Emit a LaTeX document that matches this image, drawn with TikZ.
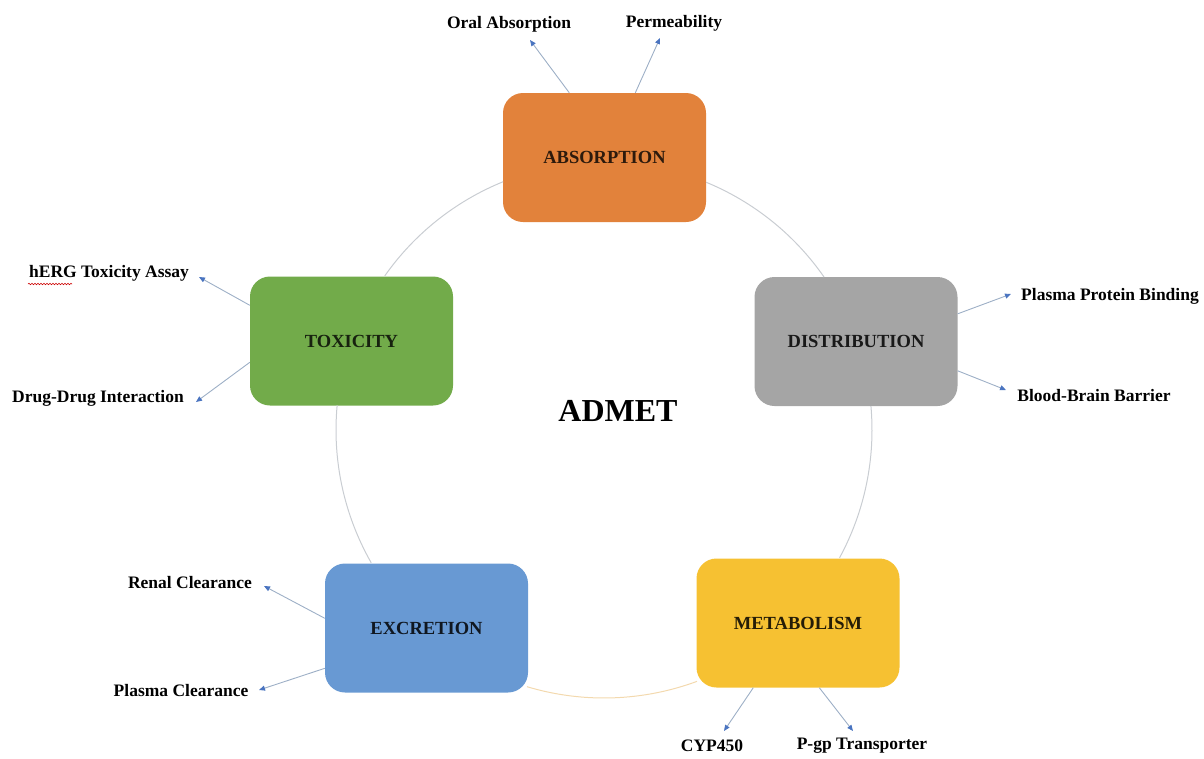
\documentclass[tikz,border=0pt]{standalone}
\usepackage{fontspec}
\setmainfont{Liberation Serif}
\usetikzlibrary{arrows.meta,decorations.pathmorphing}
\definecolor{cabs}{HTML}{E2823B}
\definecolor{cdis}{HTML}{A5A5A5}
\definecolor{cmet}{HTML}{F6C132}
\definecolor{cexc}{HTML}{6899D3}
\definecolor{ctox}{HTML}{72AB4A}
\definecolor{ringgray}{HTML}{C9CDD2}
\definecolor{ringorange}{HTML}{F3D9AE}
\definecolor{linecol}{HTML}{9DAFC6}
\definecolor{tipcol}{HTML}{4A74C0}
\begin{document}
\begin{tikzpicture}[x=1pt,y=-1pt,
  box/.style={rounded corners=20pt, minimum width=203pt, minimum height=129pt, inner sep=0pt,
    font=\bfseries\fontsize{18.5}{20}\selectfont},
  lbl/.style={inner sep=0pt, font=\bfseries\fontsize{17.5}{20}\selectfont},
  ring/.style={line width=1pt, draw=ringgray},
  ptr/.style={draw=linecol, line width=0.9pt, -{Triangle[length=6pt,width=5pt,color=tipcol]}}]
\useasboundingbox (0,0) rectangle (1204,758);

% main boxes
\node[box, fill=cabs, text=cabs!20!black] (abs) at (604.5,157.5) {ABSORPTION};
\node[box, fill=cdis, text=black!90] (dis) at (856,341.5) {DISTRIBUTION};
\node[box, fill=cmet, text=cmet!15!black] (met) at (798,623) {METABOLISM};
\node[box, fill=cexc, text=cexc!15!black] (exc) at (426.5,628) {EXCRETION};
\node[box, fill=ctox, text=ctox!20!black] (tox) at (351.5,341) {TOXICITY};

% centre title
\node[inner sep=0pt, font=\bfseries\fontsize{32}{36}\selectfont] (admet) at (618,411) {ADMET};

% ring (circle through the five boxes)
\coordinate (ctr) at (604,430);
\draw[ring] ([shift={(-67.6:268)}]ctr) arc[start angle=-67.6, end angle=-34.8, radius=268];
\draw[ring] ([shift={(-5.1:268)}]ctr) arc[start angle=-5.1, end angle=28.5, radius=268];
\draw[ring, draw=ringorange] ([shift={(69.7:268)}]ctr) arc[start angle=69.7, end angle=106.7, radius=268];
\draw[ring] ([shift={(150.3:268)}]ctr) arc[start angle=150.3, end angle=185.3, radius=268];
\draw[ring] ([shift={(215.1:268)}]ctr) arc[start angle=215.1, end angle=247.9, radius=268];

% labels
\node[lbl] (oral) at (509,24) {Oral Absorption};
\node[lbl] (perm) at (674,23) {Permeability};
\node[lbl] (herg) at (109,273) {hERG Toxicity Assay};
\node[lbl] (ddi) at (98,398) {Drug-Drug Interaction};
\node[lbl] (ppb) at (1110,296) {Plasma Protein Binding};
\node[lbl] (bbb) at (1094,396) {Blood-Brain Barrier};
\node[lbl] (renal) at (190,583) {Renal Clearance};
\node[lbl] (pcl) at (181,691) {Plasma Clearance};
\node[lbl] (cyp) at (712,746) {CYP450};
\node[lbl] (pgp) at (862,746) {P-gp Transporter};

% spell-check underline under hERG
\draw[red!80!black, line width=0.6pt, decorate, decoration={snake,amplitude=0.7pt,segment length=3pt}] (28,284) -- (72,284);

% arrow tips
\coordinate (toral) at (530,40);
\coordinate (tperm) at (660,38);
\coordinate (therg) at (199,277);
\coordinate (tddi) at (196,402);
\coordinate (tppb) at (1011,294);
\coordinate (tbbb) at (1006,390);
\coordinate (trenal) at (264,586);
\coordinate (tpcl) at (259,690);
\coordinate (tcyp) at (724,731);
\coordinate (tpgp) at (853,731);

\draw[ptr] ([xshift=66.5pt]abs.north west) -- (toral);
\draw[ptr] ([xshift=132.5pt]abs.north west) -- (tperm);
\draw[ptr] ([yshift=-29pt]tox.north west) -- (therg);
\draw[ptr] ([yshift=-86pt]tox.north west) -- (tddi);
\draw[ptr] ([yshift=-37pt]dis.north east) -- (tppb);
\draw[ptr] ([yshift=-94pt]dis.north east) -- (tbbb);
\draw[ptr] ([yshift=-55pt]exc.north west) -- (trenal);
\draw[ptr] ([yshift=-105pt]exc.north west) -- (tpcl);
\draw[ptr] ([xshift=57pt]met.south west) -- (tcyp);
\draw[ptr] ([xshift=123pt]met.south west) -- (tpgp);
\end{tikzpicture}
\end{document}
